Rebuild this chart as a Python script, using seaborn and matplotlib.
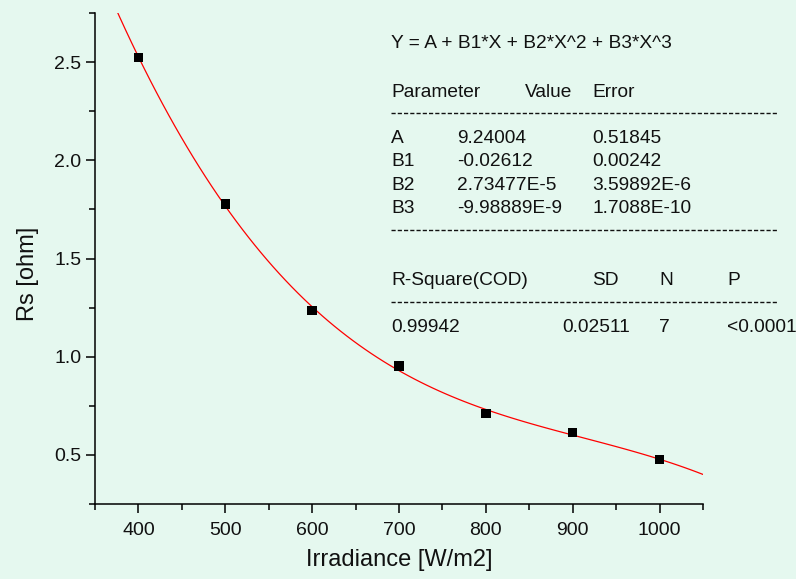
import numpy as np
import pandas as pd
import seaborn as sns
import matplotlib
matplotlib.use("Agg")
import matplotlib.pyplot as plt
from matplotlib.ticker import MultipleLocator
from matplotlib.lines import Line2D

# ---------------- data ----------------
irradiance = [400, 500, 600, 700, 800, 900, 1000]
rs_ohm = [2.524, 1.778, 1.234, 0.953, 0.710, 0.613, 0.475]

equation = "Y = A + B1*X + B2*X^2 + B3*X^3"
param_header = ["Parameter", "Value", "Error"]
param_names = ["A", "B1", "B2", "B3"]
param_values = ["9.24004", "-0.02612", "2.73477E-5", "-9.98889E-9"]
param_errors = ["0.51845", "0.00242", "3.59892E-6", "1.7088E-10"]
stat_header = ["R-Square(COD)", "SD", "N", "P"]
stat_values = ["0.99942", "0.02511", "7", "<0.0001"]

x_label = "Irradiance [W/m2]"
y_label = "Rs [ohm]"

# ---------------- style ----------------
BG = "#E5F8EF"
sns.set_style("ticks")
plt.rcParams["font.family"] = ["Liberation Sans", "DejaVu Sans"]
plt.rcParams["axes.linewidth"] = 1.1

W, H = 796, 579
fig = plt.figure(figsize=(W / 100, H / 100), dpi=100, facecolor=BG)
ax = fig.add_axes([95 / W, 1 - 504 / H, (703 - 95) / W, (504 - 13) / H])
ax.set_facecolor(BG)
ax.set_xlim(350, 1050)
ax.set_ylim(0.25, 2.75)

df = pd.DataFrame({"x": irradiance, "y": rs_ohm})
sns.regplot(data=df, x="x", y="y", order=3, ci=None, truncate=False, ax=ax,
            marker="s",
            scatter_kws=dict(s=45, color="black", edgecolors="none", zorder=3, alpha=1),
            line_kws=dict(color="red", lw=0.9, zorder=2))
ax.set_xlim(350, 1050)
ax.set_ylim(0.25, 2.75)

for s in ["top", "right"]:
    ax.spines[s].set_visible(False)
for s in ["left", "bottom"]:
    ax.spines[s].set_color("black")
    ax.spines[s].set_linewidth(1.1)

ax.xaxis.set_major_locator(MultipleLocator(100))
ax.xaxis.set_minor_locator(MultipleLocator(50))
ax.yaxis.set_major_locator(MultipleLocator(0.5))
ax.yaxis.set_minor_locator(MultipleLocator(0.25))
ax.tick_params(which="major", length=6.8, width=1.1, color="black",
               labelsize=14, labelcolor="#111111")
ax.tick_params(which="minor", length=4.0, width=1.1, color="black")
ax.tick_params(axis="x", which="major", pad=6)
ax.tick_params(axis="y", which="major", pad=3)
ax.yaxis.set_major_formatter(matplotlib.ticker.FormatStrFormatter("%.1f"))

ax.set_xlabel(x_label, fontsize=17, color="#111111")
ax.set_ylabel(y_label, fontsize=17, color="#111111")
ax.xaxis.set_label_coords(0.5, (504 - 549) / 491)
ax.yaxis.set_label_coords((39 - 95) / 608, (504 - 274) / 491)

# ---------------- fit report text ----------------
FS = 13.8
TC = "#111111"


def ftext(x, y, s, **kw):
    fig.text(x / W, 1 - y / H, s, fontsize=FS, color=TC, va="baseline",
             ha="left", **kw)


def dash_line(y):
    fig.add_artist(Line2D([391 / W, 777 / W], [1 - y / H, 1 - y / H],
                          transform=fig.transFigure, color=TC, lw=1.0,
                          dashes=(3.0, 1.5)))


ftext(391, 48, equation)
for xp, s in zip([391, 525, 592], param_header):
    ftext(xp, 97, s)
dash_line(113)
for i, (n, v, e) in enumerate(zip(param_names, param_values, param_errors)):
    yb = 143 + i * 23.3
    ftext(391, yb, n)
    ftext(457, yb, v)
    ftext(592, yb, e)
dash_line(230)
for xp, s in zip([391, 592, 659, 727], stat_header):
    ftext(xp, 285, s)
dash_line(302)
for xp, s in zip([391, 562, 659, 727], stat_values):
    ftext(xp, 332, s)

fig.savefig("out.png", dpi=100, facecolor=BG)
